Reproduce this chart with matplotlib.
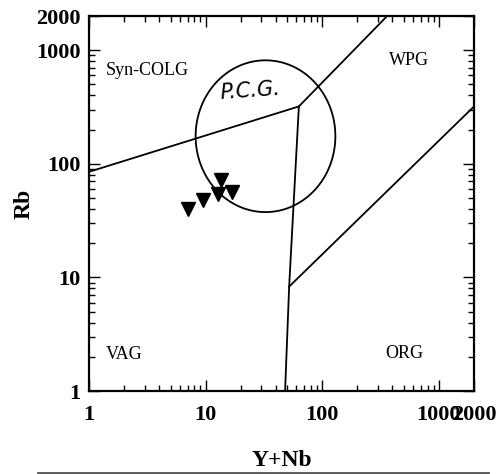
import numpy as np
import matplotlib
matplotlib.use("Agg")
import matplotlib.pyplot as plt
from matplotlib.lines import Line2D
from matplotlib.ticker import FixedLocator, FixedFormatter, LogLocator, NullFormatter

# ---- data ----
sample_ynb = [7.1, 9.4, 12.7, 13.5, 16.7]
sample_rb = [40, 48, 54, 72, 57]

# field boundaries (Y+Nb, Rb)
vag_syn_x = [1, 63]
vag_syn_y = [85, 320]
wpg_syn_x = [63, 360]
wpg_syn_y = [320, 2000]
vag_wpg_x = [48, 52, 63]
vag_wpg_y = [1, 8.3, 320]
org_wpg_x = [52, 2000]
org_wpg_y = [8.3, 320]

# P.C.G. circle: centre (Y+Nb, Rb) and radii in decades
pcg_center = (32.6, 175)
pcg_radius_dec = (0.599, 0.668)

x_ticks = [1, 10, 100, 1000, 2000]
x_ticklabels = ["1", "10", "100", "1000", "2000"]
y_ticks = [1, 10, 100, 1000, 2000]
y_ticklabels = ["1", "10", "100", "1000", "2000"]

fields = [("Syn-COLG", 1.4, 665, "left"), ("WPG", 371, 815, "left"),
          ("VAG", 1.4, 2.08, "left"), ("ORG", 349, 2.12, "left")]

plt.rcParams['font.family'] = ['Liberation Serif', 'DejaVu Serif']

fig = plt.figure(figsize=(5.04, 4.74), dpi=100)
ax = fig.add_axes([0.1766, 0.1751, 0.9405 - 0.1766, 0.9662 - 0.1751])
ax.set_xscale('log')
ax.set_yscale('log')
ax.set_xlim(1, 2000)
ax.set_ylim(1, 2000)

lw = 1.3
for xs, ys in [(vag_syn_x, vag_syn_y), (wpg_syn_x, wpg_syn_y),
               (vag_wpg_x, vag_wpg_y), (org_wpg_x, org_wpg_y)]:
    ax.plot(xs, ys, color='black', lw=lw)

t = np.linspace(0, 2 * np.pi, 400, endpoint=False)
cx = 10 ** (np.log10(pcg_center[0]) + pcg_radius_dec[0] * np.cos(t))
cy = 10 ** (np.log10(pcg_center[1]) + pcg_radius_dec[1] * np.sin(t))
ax.fill(cx, cy, fill=False, edgecolor='black', lw=lw)

ax.plot(sample_ynb, sample_rb, linestyle='none', marker='v', color='black',
        markersize=10)

for name, x, y, ha in fields:
    ax.text(x, y, name, fontsize=13, ha=ha, va='center')

ax.text(23.9, 434, "P.C.G.", fontsize=15, style='italic', family='DejaVu Sans',
        ha='center', va='center', rotation=4)

for axis, ticks, labels in [(ax.xaxis, x_ticks, x_ticklabels),
                            (ax.yaxis, y_ticks, y_ticklabels)]:
    axis.set_major_locator(FixedLocator(ticks))
    axis.set_major_formatter(FixedFormatter(labels))
    axis.set_minor_locator(LogLocator(base=10, subs=np.arange(2, 10)))
    axis.set_minor_formatter(NullFormatter())

ax.tick_params(which='both', direction='in', top=True, right=True, width=1.0)
ax.tick_params(which='major', length=8, labelsize=16)
ax.tick_params(axis='x', which='major', pad=10)
ax.tick_params(axis='y', which='major', pad=6)
ax.tick_params(which='minor', length=4)
for lab in ax.get_xticklabels() + ax.get_yticklabels():
    lab.set_fontweight('bold')
for s in ax.spines.values():
    s.set_linewidth(1.6)

fig.text(24 / 504, 1 - 204 / 474, "Rb", rotation=90, fontsize=17,
         fontweight='bold', ha='center', va='center')
fig.text(282 / 504, 1 - 461 / 474, "Y+Nb", fontsize=17, fontweight='bold',
         ha='center', va='center')
fig.add_artist(Line2D([38 / 504, 488 / 504], [1 - 473 / 474, 1 - 473 / 474],
                      color='#555555', lw=2))

fig.savefig("out.png", dpi=100)
